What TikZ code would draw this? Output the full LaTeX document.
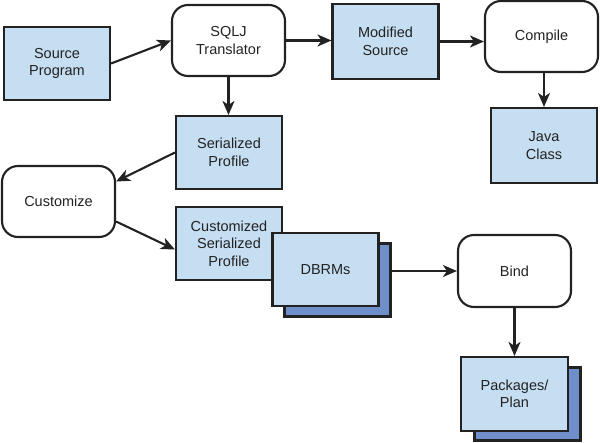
\documentclass[tikz,border=0pt]{standalone}
\usepackage{fontspec}
\setmainfont{Liberation Sans}
\usetikzlibrary{arrows.meta,calc}
\definecolor{lblue}{HTML}{C6DEF2}
\definecolor{dblue}{HTML}{6E8FC9}
\definecolor{ink}{HTML}{222222}
\tikzset{
  base/.style={draw=ink, line width=2.1pt, text=ink, align=center,
    font=\fontsize{14.5}{17.5}\selectfont, inner sep=0pt},
  datbox/.style={base, fill=lblue, minimum width=106pt, minimum height=73pt},
  backbox/.style={base, fill=dblue, minimum width=106pt, minimum height=73pt},
  procbox/.style={base, fill=white, rounded corners=16pt, minimum width=113pt, minimum height=71pt},
  conn/.style={draw=ink, line width=2.1pt, -{Stealth[length=14pt,width=12pt,inset=4pt]}}
}
\begin{document}
\begin{tikzpicture}[x=1pt,y=-1pt]
\useasboundingbox (0,0) rectangle (600,442);
\node[datbox] (src) at (57,63.5) {Source\\Program};
\node[procbox] (sqlj) at (228.5,40.5) {SQLJ\\Translator};
\node[datbox] (ser) at (229,152.5) {Serialized\\Profile};
\node[procbox] (cust) at (58.5,201.5) {Customize};
\node[datbox] (csp) at (229,243.5) {Customized\\Serialized\\Profile};
\node[backbox] (dbback) at (337.5,280) {};
\node[datbox] (db) at (325.5,269.5) {DBRMs};
\node[datbox, minimum height=75pt] (mod) at (385.5,41.5) {Modified\\Source};
\node[procbox] (comp) at (541.5,36.5) {Compile};
\node[datbox, minimum height=75pt] (java) at (544,145.5) {Java\\Class};
\node[procbox, minimum height=72pt] (bind) at (514.5,271) {Bind};
\node[backbox] (pkback) at (527.5,404) {};
\node[datbox, minimum width=107pt, minimum height=74pt] (pk) at (514.5,394) {Packages/\\Plan};
\draw[conn] (src.east) -- (sqlj.west);
\draw[conn] (sqlj.east) -- (sqlj.east -| mod.west);
\draw[conn] (mod.east) -- (mod.east -| comp.west);
\draw[conn] (java.north |- comp.south) -- (java.north);
\draw[conn] (sqlj.south) -- (sqlj.south |- ser.north);
\draw[conn] (ser.west) -- ([yshift=20pt]cust.east);
\draw[conn] ([yshift=-20pt]cust.east) -- ([yshift=-6pt]csp.west);
\draw[conn] (bind.west -| dbback.east) -- (bind.west);
\draw[conn] (bind.south) -- (pk.north);
\end{tikzpicture}
\end{document}
